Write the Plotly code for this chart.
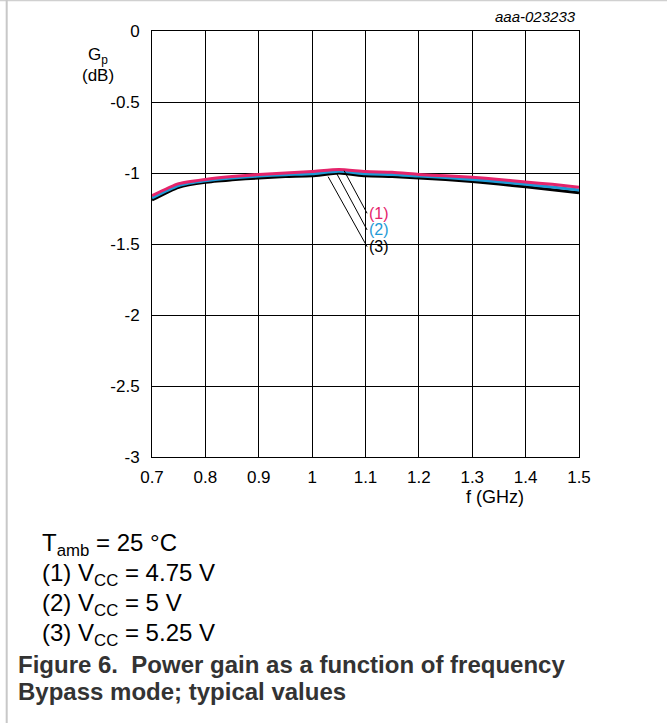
import plotly.graph_objects as go

# ---- data ----
freq = [0.70, 0.75, 0.80, 0.85, 0.90, 0.95, 1.00, 1.05, 1.10, 1.15, 1.20, 1.25, 1.30, 1.35, 1.40, 1.45, 1.50]
gp_1 = [-1.16, -1.075, -1.045, -1.025, -1.010, -1.000, -0.990, -0.975, -0.990, -0.995, -1.010, -1.020, -1.030, -1.045, -1.063, -1.080, -1.100]
gp_2 = [-1.175, -1.088, -1.055, -1.036, -1.022, -1.012, -1.005, -0.987, -1.005, -1.010, -1.022, -1.032, -1.045, -1.061, -1.080, -1.099, -1.120]
gp_3 = [-1.19, -1.100, -1.065, -1.048, -1.035, -1.025, -1.020, -1.000, -1.020, -1.025, -1.035, -1.045, -1.060, -1.078, -1.097, -1.118, -1.140]

series_names = ["(1)", "(2)", "(3)"]
series_colors = ["#e5246b", "#1e9ad6", "#000000"]

# leader lines: start on curve, end at label
leader_x0 = [1.060, 1.0465, 1.030]
leader_y0 = [-0.984, -1.007, -1.026]
leader_x1 = [1.103, 1.103, 1.103]
leader_y1 = [-1.284, -1.401, -1.519]

x_ticks = [0.7, 0.8, 0.9, 1.0, 1.1, 1.2, 1.3, 1.4, 1.5]
x_ticktext = ["0.7", "0.8", "0.9", "1", "1.1", "1.2", "1.3", "1.4", "1.5"]
y_ticks = [0, -0.5, -1, -1.5, -2, -2.5, -3]
y_ticktext = ["0", "-0.5", "-1", "-1.5", "-2", "-2.5", "-3"]

notes = ["T<sub>amb</sub> = 25 °C", "(1) V<sub>CC</sub> = 4.75 V", "(2) V<sub>CC</sub> = 5 V", "(3) V<sub>CC</sub> = 5.25 V"]
caption = ["Figure 6.  Power gain as a function of frequency", "Bypass mode; typical values"]

# ---- layout geometry (pixels) ----
W, H = 667, 723
L, R, T, B = 152, 579, 31, 457
FONT = "Arial, Liberation Sans, sans-serif"


def px2x(px):
    return (px - L) / (R - L)


def py2y(py):
    return (B - py) / (B - T)


fig = go.Figure()

for ys, name, col in reversed(list(zip([gp_1, gp_2, gp_3], series_names, series_colors))):
    fig.add_trace(go.Scatter(x=freq, y=ys, mode="lines", name=name,
                             line=dict(color=col, width=3, shape="spline", smoothing=0.6),
                             showlegend=False, hoverinfo="skip"))

for i in range(3):
    fig.add_trace(go.Scatter(x=[leader_x0[i], leader_x1[i]], y=[leader_y0[i], leader_y1[i]],
                             mode="lines", line=dict(color="black", width=1),
                             showlegend=False, hoverinfo="skip"))

annotations = []
for i in range(3):
    annotations.append(dict(x=leader_x1[i], y=leader_y1[i], xref="x", yref="y",
                            text=series_names[i], showarrow=False, xanchor="left", yanchor="middle",
                            xshift=0, font=dict(family=FONT, size=16, color=series_colors[i])))

annotations.append(dict(x=px2x(578), y=py2y(17), xref="paper", yref="paper", text="<i>aaa-023233</i>",
                        showarrow=False, xanchor="right", yanchor="middle",
                        font=dict(family=FONT, size=15, color="black")))
annotations.append(dict(x=px2x(98), y=py2y(56), xref="paper", yref="paper", text="G<sub>p</sub>",
                        showarrow=False, xanchor="center", yanchor="middle",
                        font=dict(family=FONT, size=17, color="black")))
annotations.append(dict(x=px2x(98), y=py2y(76), xref="paper", yref="paper", text="(dB)",
                        showarrow=False, xanchor="center", yanchor="middle",
                        font=dict(family=FONT, size=17, color="black")))
annotations.append(dict(x=px2x(495), y=py2y(497), xref="paper", yref="paper", text="f (GHz)",
                        showarrow=False, xanchor="center", yanchor="middle",
                        font=dict(family=FONT, size=18, color="black")))

note_y = [544, 574, 604, 634]
for txt, py in zip(notes, note_y):
    annotations.append(dict(x=px2x(40), y=py2y(py), xref="paper", yref="paper", text=txt,
                            showarrow=False, xanchor="left", yanchor="middle",
                            font=dict(family=FONT, size=24, color="black")))
cap_y = [664, 691]
for txt, py in zip(caption, cap_y):
    annotations.append(dict(x=px2x(16), y=py2y(py), xref="paper", yref="paper", text="<b>" + txt + "</b>",
                            showarrow=False, xanchor="left", yanchor="middle",
                            font=dict(family=FONT, size=24, color="#333333")))

shapes = [
    dict(type="line", xref="paper", yref="paper", x0=px2x(0), x1=px2x(W), y0=py2y(0.5), y1=py2y(0.5),
         line=dict(color="#d0d0d0", width=1.5)),
    dict(type="line", xref="paper", yref="paper", x0=px2x(6.7), x1=px2x(6.7), y0=py2y(0), y1=py2y(H),
         line=dict(color="#c8c8c8", width=2)),
]

fig.update_layout(
    width=W, height=H, margin=dict(l=L, r=W - R, t=T, b=H - B, pad=0),
    paper_bgcolor="white", plot_bgcolor="white",
    font=dict(family=FONT, size=17, color="black"),
    annotations=annotations, shapes=shapes, showlegend=False,
    xaxis=dict(range=[0.7, 1.5], tickvals=x_ticks, ticktext=x_ticktext, showgrid=True,
               gridcolor="black", gridwidth=1, showline=True, linecolor="black", linewidth=1,
               mirror=True, zeroline=False, ticks="", ticklabelstandoff=5,
               tickfont=dict(family=FONT, size=17, color="black")),
    yaxis=dict(range=[-3, 0], tickvals=y_ticks, ticktext=y_ticktext, showgrid=True,
               gridcolor="black", gridwidth=1, showline=True, linecolor="black", linewidth=1,
               mirror=True, zeroline=False, ticks="", ticklabelstandoff=8,
               tickfont=dict(family=FONT, size=17, color="black")),
)

fig.write_html("out.html", config={"displayModeBar": False},
               post_script="document.body.style.margin='0';document.body.style.overflow='hidden';")
